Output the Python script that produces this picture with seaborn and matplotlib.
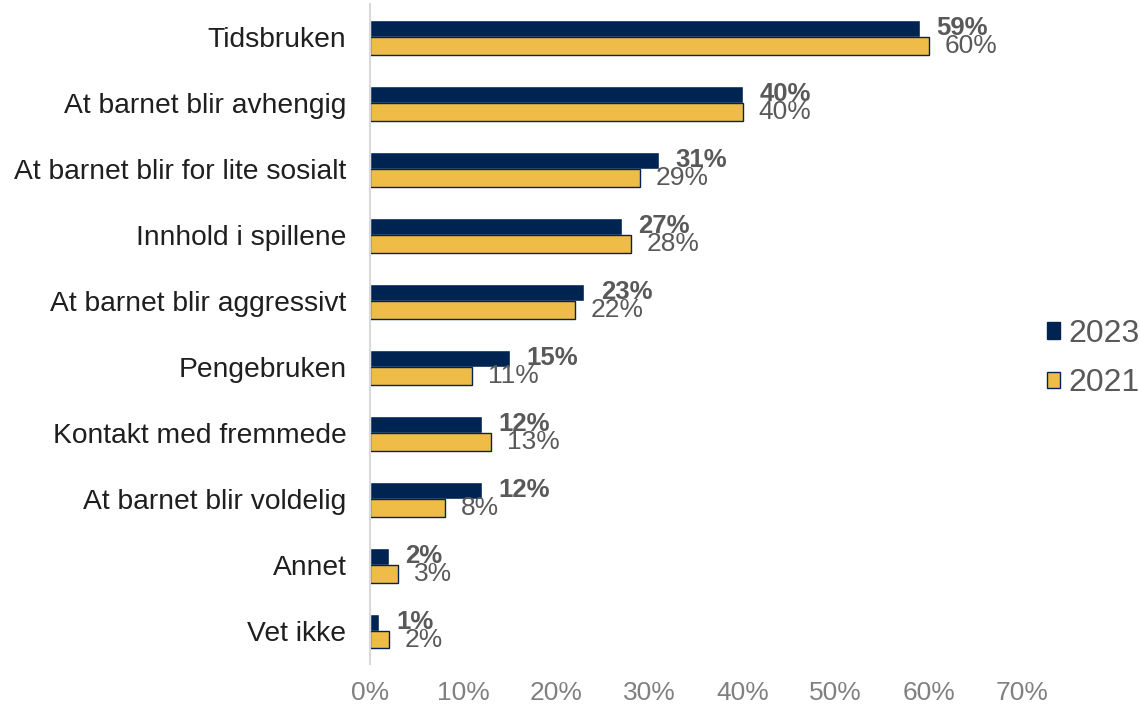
import pandas as pd
import matplotlib
matplotlib.use("Agg")
import matplotlib.pyplot as plt
import seaborn as sns
from matplotlib.ticker import PercentFormatter
from matplotlib.patches import Patch

# data
categories = [
    "Tidsbruken",
    "At barnet blir avhengig",
    "At barnet blir for lite sosialt",
    "Innhold i spillene",
    "At barnet blir aggressivt",
    "Pengebruken",
    "Kontakt med fremmede",
    "At barnet blir voldelig",
    "Annet",
    "Vet ikke",
]
values_2023 = [59, 40, 31, 27, 23, 15, 12, 12, 2, 1]
values_2021 = [60, 40, 29, 28, 22, 11, 13, 8, 3, 2]
years = ["2023", "2021"]

navy = "#002451"
gold = "#F0BC48"
grey = "#595959"

df = pd.DataFrame({
    "Kategori": categories * 2,
    "Andel": values_2023 + values_2021,
    "År": [years[0]] * len(categories) + [years[1]] * len(categories),
})

sns.set_style("white")
plt.rcParams["font.family"] = ["Liberation Sans", "DejaVu Sans"]

fig = plt.figure(figsize=(11.4, 7.06), dpi=100)
ax = fig.add_axes([0.3246, 0.0595, 0.8965 - 0.3246, 0.994 - 0.0595])

sns.barplot(data=df, x="Andel", y="Kategori", hue="År", hue_order=years,
            palette=[navy, gold], orient="h", width=0.53, order=categories,
            ax=ax, legend=False, saturation=1)

# only the 2021 bars carry a thin dark outline
for bar in ax.containers[1]:
    bar.set_edgecolor(navy)
    bar.set_linewidth(1.0)

ax.set_xlim(0, 70)
ax.set_ylim(len(categories) - 0.5, -0.5)
ax.xaxis.set_major_formatter(PercentFormatter(decimals=0))
ax.set_xticks(range(0, 71, 10))
ax.set_xlabel("")
ax.set_ylabel("")

for s in ["top", "right", "bottom"]:
    ax.spines[s].set_visible(False)
ax.spines["left"].set_color("#D9D9D9")
ax.spines["left"].set_linewidth(1.5)

ax.tick_params(axis="y", length=0, pad=17, labelsize=20.3, labelcolor="#1F1F1F")
ax.tick_params(axis="x", length=0, pad=12, labelsize=19, labelcolor="#808080")

ax.bar_label(ax.containers[0], labels=[f"{v}%" for v in values_2023],
             padding=12, fontsize=18.5, fontweight="bold", color=grey)
ax.bar_label(ax.containers[1], labels=[f"{v}%" for v in values_2021],
             padding=11.5, fontsize=19, color=grey)

handles = [Patch(facecolor=navy, edgecolor=navy, label="2023"),
           Patch(facecolor=gold, edgecolor=navy, label="2021")]
fig.legend(handles=handles, loc="center left", bbox_to_anchor=(0.9184, 0.492),
           frameon=False, fontsize=23, labelcolor="#595959",
           borderpad=0, borderaxespad=0,
           handlelength=0.42, handleheight=0.42, handletextpad=0.25,
           labelspacing=0.6)

fig.savefig("out.png", dpi=100)
